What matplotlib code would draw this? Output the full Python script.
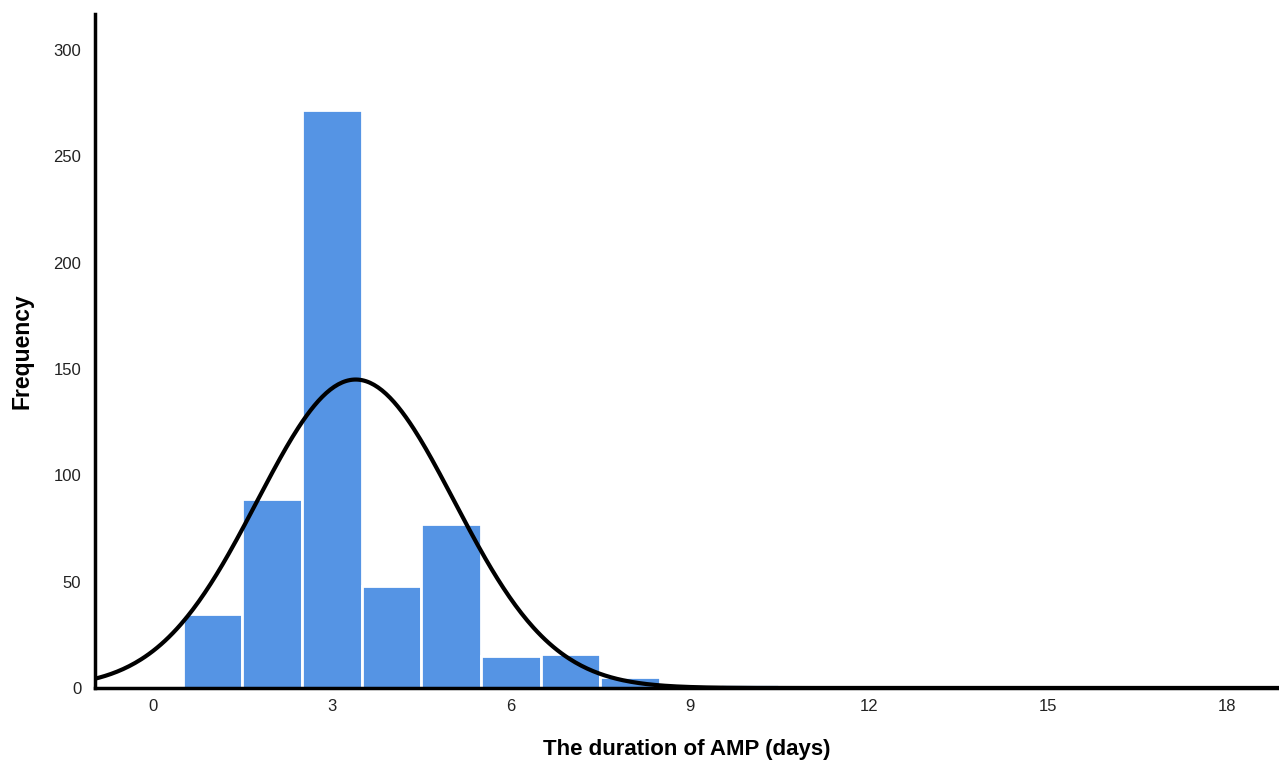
import numpy as np
import matplotlib.pyplot as plt

plt.rcParams['font.family'] = ['Liberation Sans', 'DejaVu Sans']

# histogram bins (centres, days) and counts
bin_centers = [1, 2, 3, 4, 5, 6, 7, 8, 9, 10]
counts = [35, 89, 272, 48, 77, 15, 16, 5, 0, 2]

# fitted normal curve
mu = 3.4
sigma = 1.65
n_total = 600

xticks = [0, 3, 6, 9, 12, 15, 18]
yticks = [0, 50, 100, 150, 200, 250, 300]

fig = plt.figure(figsize=(12.79, 7.65), dpi=100)
ax = fig.add_axes([0.0743, 0.1007, 0.9257, 0.881])

ax.bar(bin_centers, counts, width=1.0, color='#5594e4',
       edgecolor='white', linewidth=2, zorder=2)

xs = np.linspace(-1, 19, 600)
pdf = n_total / (sigma * np.sqrt(2 * np.pi)) * np.exp(-(xs - mu) ** 2 / (2 * sigma ** 2))
ax.plot(xs, pdf, color='black', linewidth=3, zorder=3)

ax.set_xlim(-0.97, 18.88)
ax.set_ylim(0, 317)
ax.set_xticks(xticks)
ax.set_yticks(yticks)
ax.tick_params(length=0, labelsize=12, colors='#222222', pad=8)
ax.tick_params(axis='y', pad=10)

for s in ['top', 'right']:
    ax.spines[s].set_visible(False)
for s in ['left', 'bottom']:
    ax.spines[s].set_linewidth(2.5)
    ax.spines[s].set_zorder(4)

ax.set_xlabel('The duration of AMP (days)', fontsize=16, fontweight='bold', labelpad=18)
ax.set_ylabel('Frequency', fontsize=16.5, fontweight='bold', labelpad=14)

fig.savefig('out.png', dpi=100)
